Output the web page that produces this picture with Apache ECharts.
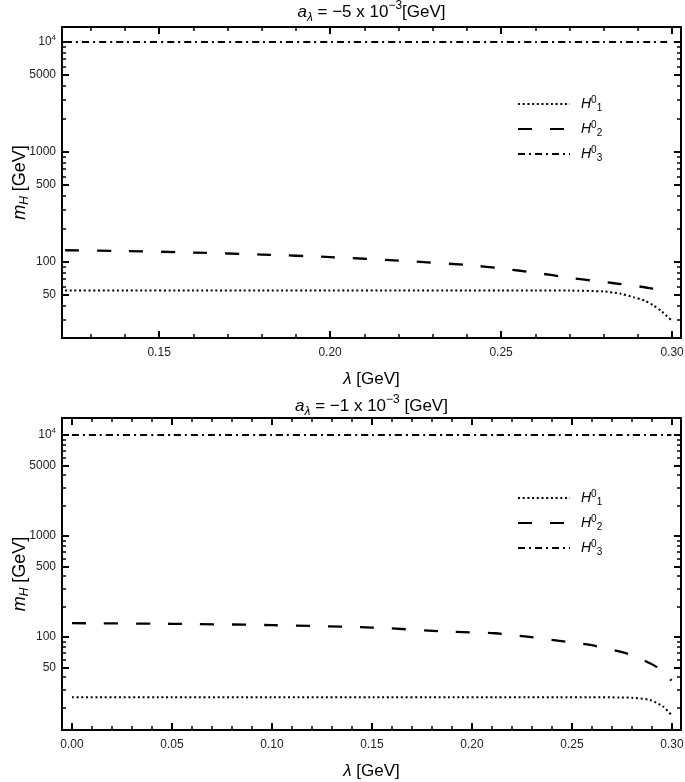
<!DOCTYPE html>
<html><head><meta charset="utf-8">
<script src="https://cdn.jsdelivr.net/npm/echarts@6/dist/echarts.min.js"></script>
<style>html,body{margin:0;padding:0;background:#fff}#c{width:685px;height:782px}</style>
</head><body><div id="c"></div>
<script>
// ---------- data ----------
// top panel: a_lambda = -5e-3 GeV
const lambdaTop = [0.1225, 0.14, 0.16, 0.18, 0.20, 0.22, 0.24, 0.25, 0.26, 0.27, 0.28, 0.285, 0.2886, 0.292, 0.2944, 0.297, 0.2997];
const h1Top = [55, 55, 55, 55, 55, 55, 55, 55, 55, 55, 54, 51.5, 48, 44.5, 40.6, 35.5, 29.7];
const h2Top = [128, 126, 122, 117, 111, 103, 94, 87.5, 80, 72, 66, 63, 61, 59, 57.3, 57, null];
const h3Top = [10000, 10000, 10000, 10000, 10000, 10000, 10000, 10000, 10000, 10000, 10000, 10000, 10000, 10000, 10000, 10000, 10000];
// bottom panel: a_lambda = -1e-3 GeV
const lambdaBot = [0, 0.05, 0.10, 0.15, 0.188, 0.2116, 0.2275, 0.243, 0.259, 0.274, 0.28, 0.289, 0.2955, 0.2997];
const h1Bot = [25.3, 25.3, 25.3, 25.3, 25.3, 25.3, 25.3, 25.3, 25.3, 25.2, 25, 23.8, 20.5, 16.9];
const h2Bot = [137, 135, 131, 124, 113, 108.8, 100.7, 91.9, 83.3, 71.5, 66, 54.9, 46, 37];
const h3Bot = [10000, 10000, 10000, 10000, 10000, 10000, 10000, 10000, 10000, 10000, 10000, 10000, 10000, 10000];

const seriesNames = ['H1', 'H2', 'H3'];
const xMajorTop = [0.15, 0.20, 0.25, 0.30];
const xMinorTop = [0.13, 0.14, 0.16, 0.17, 0.18, 0.19, 0.21, 0.22, 0.23, 0.24, 0.26, 0.27, 0.28, 0.29];
const xMajorBot = [0.00, 0.05, 0.10, 0.15, 0.20, 0.25, 0.30];
const xMinorBot = [0.01, 0.02, 0.03, 0.04, 0.06, 0.07, 0.08, 0.09, 0.11, 0.12, 0.13, 0.14, 0.16, 0.17, 0.18, 0.19, 0.21, 0.22, 0.23, 0.24, 0.26, 0.27, 0.28, 0.29];
const yMajor = [50, 100, 500, 1000, 5000, 10000];
const yMinor = [20, 30, 40, 60, 70, 80, 90, 200, 300, 400, 600, 700, 800, 900, 2000, 3000, 4000, 6000, 7000, 8000, 9000];

// ---------- styling ----------
const FONT = "'Liberation Sans', Arial, sans-serif";
const lineStyles = {
  H1: {color: '#000', width: 2, type: [2, 2.7], cap: 'butt'},
  H2: {color: '#000', width: 2.3, type: [14, 18], cap: 'butt'},
  H3: {color: '#000', width: 2, type: [7, 4, 2, 4], cap: 'butt'}
};

const panels = [
  {top: 27, height: 311, xMin: 0.1216, xMax: 0.3026, yMin: 20.4, yMax: 13690,
   xMajor: xMajorTop, xMinor: xMinorTop, lam: lambdaTop, vals: [h1Top, h2Top, h3Top],
   title: '{i|a}{isub|λ}{n| = −5 x 10}{sup|−3}{n|[GeV]}', titleTop: 0, legendTop: 90},
  {top: 418, height: 312, xMin: -0.005, xMax: 0.3045, yMin: 12, yMax: 14700,
   xMajor: xMajorBot, xMinor: xMinorBot, lam: lambdaBot, vals: [h1Bot, h2Bot, h3Bot],
   title: '{i|a}{isub|λ}{n| = −1 x 10}{sup|−3}{n| [GeV]}', titleTop: 394, legendTop: 484}
];

const titleRich = {
  i: {fontSize: 17, fontStyle: 'italic', fontWeight: 'normal', fontFamily: FONT, color: '#000', verticalAlign: 'middle', lineHeight: 24},
  isub: {fontSize: 12, fontStyle: 'italic', fontWeight: 'normal', fontFamily: FONT, color: '#000', verticalAlign: 'bottom'},
  n: {fontSize: 17, fontWeight: 'normal', fontFamily: FONT, color: '#000', verticalAlign: 'middle', lineHeight: 24},
  sup: {fontSize: 12, fontWeight: 'normal', fontFamily: FONT, color: '#000', verticalAlign: 'top'}
};
const legendRich = {
  h: {fontSize: 14, fontStyle: 'italic', fontFamily: FONT, color: '#000', verticalAlign: 'middle', lineHeight: 18, padding: [0, 0, 0, 6]},
  sup: {fontSize: 10, fontFamily: FONT, color: '#000', verticalAlign: 'top'},
  sub: {fontSize: 10, fontFamily: FONT, color: '#000', verticalAlign: 'bottom'}
};
const yLabelRich = {
  b: {fontSize: 12, fontFamily: FONT, color: '#222', verticalAlign: 'middle', lineHeight: 16},
  s: {fontSize: 8, fontFamily: FONT, color: '#222', verticalAlign: 'top'}
};

const grids = [], xAxes = [], yAxes = [], series = [], titles = [], legends = [];
const GRID_RIGHT = 4, PLOT_LEFT = 62;

panels.forEach((p, g) => {
  grids.push({left: 50, right: GRID_RIGHT, top: p.top, height: p.height, containLabel: false,
    outerBounds: {left: 3, right: -200, top: -200, bottom: -200}});
  titles.push({text: p.title, left: (PLOT_LEFT + 685 - GRID_RIGHT) / 2, textAlign: 'center', top: p.titleTop, padding: 0,
    textStyle: {fontWeight: 'normal', rich: titleRich}});
  const xMainIdx = xAxes.length;
  const common = {type: 'value', gridIndex: g, min: p.xMin, max: p.xMax, splitLine: {show: false}};
  // bottom major (with labels + name)
  xAxes.push(Object.assign({}, common, {
    position: 'bottom',
    axisLine: {show: true, onZero: false, lineStyle: {color: '#000', width: 2}},
    axisTick: {show: true, inside: true, length: 7, lineStyle: {color: '#000', width: 2}, customValues: p.xMajor},
    axisLabel: {show: true, customValues: p.xMajor, formatter: v => v.toFixed(2), fontSize: 12, color: '#222', fontFamily: FONT, margin: 9},
    name: '{i|λ}{n| [GeV]}', nameLocation: 'middle', nameGap: 33, nameMoveOverlap: false,
    nameTextStyle: {rich: {i: {fontSize: 17, fontStyle: 'italic', fontFamily: FONT, color: '#000'}, n: {fontSize: 17, fontFamily: FONT, color: '#000'}}}
  }));
  // bottom minor
  xAxes.push(Object.assign({}, common, {
    position: 'bottom', axisLine: {show: false, onZero: false},
    axisTick: {show: true, inside: true, length: 4, lineStyle: {color: '#000', width: 1.5}, customValues: p.xMinor},
    axisLabel: {show: false}
  }));
  // top major
  xAxes.push(Object.assign({}, common, {
    position: 'top',
    axisLine: {show: true, onZero: false, lineStyle: {color: '#000', width: 2}},
    axisTick: {show: true, inside: true, length: 7, lineStyle: {color: '#000', width: 2}, customValues: p.xMajor},
    axisLabel: {show: false}
  }));
  // top minor
  xAxes.push(Object.assign({}, common, {
    position: 'top', axisLine: {show: false, onZero: false},
    axisTick: {show: true, inside: true, length: 4, lineStyle: {color: '#000', width: 1.5}, customValues: p.xMinor},
    axisLabel: {show: false}
  }));

  const yMainIdx = yAxes.length;
  const ycommon = {type: 'log', logBase: 10, gridIndex: g, min: p.yMin, max: p.yMax, splitLine: {show: false}};
  const minorVals = yMinor.filter(v => v >= p.yMin && v <= p.yMax);
  yAxes.push(Object.assign({}, ycommon, {
    position: 'left',
    axisLine: {show: true, onZero: false, lineStyle: {color: '#000', width: 2}},
    axisTick: {show: true, inside: true, length: 7, lineStyle: {color: '#000', width: 2}, customValues: yMajor},
    axisLabel: {show: true, customValues: yMajor, margin: 6,
      formatter: v => (Math.abs(v - 10000) < 1 ? '{b|10}{s|4}' : '{b|' + Math.round(v) + '}'), rich: yLabelRich},
    name: '{i|m}{sub|H}{n| [GeV]}', nameLocation: 'middle', nameGap: 31, nameRotate: 90, nameMoveOverlap: false,
    nameTextStyle: {rich: {
      i: {fontSize: 18, fontStyle: 'italic', fontFamily: FONT, color: '#000', verticalAlign: 'middle', lineHeight: 22},
      sub: {fontSize: 12, fontStyle: 'italic', fontFamily: FONT, color: '#000', verticalAlign: 'bottom'},
      n: {fontSize: 18, fontFamily: FONT, color: '#000', verticalAlign: 'middle', lineHeight: 22}}}
  }));
  yAxes.push(Object.assign({}, ycommon, {
    position: 'left', axisLine: {show: false, onZero: false},
    axisTick: {show: true, inside: true, length: 4, lineStyle: {color: '#000', width: 1.5}, customValues: minorVals},
    axisLabel: {show: false}
  }));
  yAxes.push(Object.assign({}, ycommon, {
    position: 'right',
    axisLine: {show: true, onZero: false, lineStyle: {color: '#000', width: 2}},
    axisTick: {show: true, inside: true, length: 7, lineStyle: {color: '#000', width: 2}, customValues: yMajor},
    axisLabel: {show: false}
  }));
  yAxes.push(Object.assign({}, ycommon, {
    position: 'right', axisLine: {show: false, onZero: false},
    axisTick: {show: true, inside: true, length: 4, lineStyle: {color: '#000', width: 1.5}, customValues: minorVals},
    axisLabel: {show: false}
  }));

  seriesNames.forEach((name, k) => {
    const data = [];
    p.lam.forEach((x, i) => { if (p.vals[k][i] != null) data.push([x, p.vals[k][i]]); });
    series.push({
      type: 'line', name: name, xAxisIndex: xMainIdx, yAxisIndex: yMainIdx,
      data: data, showSymbol: false, symbol: 'none', smooth: 0.25,
      lineStyle: lineStyles[name], itemStyle: {color: '#000'}, animation: false, z: 3
    });
  });

  legends.push({
    data: seriesNames, orient: 'vertical', left: 512, top: p.legendTop,
    itemWidth: 52, itemHeight: 14, itemGap: 7,
    itemStyle: {opacity: 0},
    formatter: n => '{h|H}{sup|0}{sub|' + n.slice(1) + '}',
    textStyle: {rich: legendRich}
  });
});

const chart = echarts.init(document.getElementById('c'), null, {renderer: 'canvas'});
chart.setOption({
  animation: false,
  backgroundColor: '#fff',
  title: titles,
  legend: legends,
  grid: grids,
  xAxis: xAxes,
  yAxis: yAxes,
  series: series
});
</script></body></html>
